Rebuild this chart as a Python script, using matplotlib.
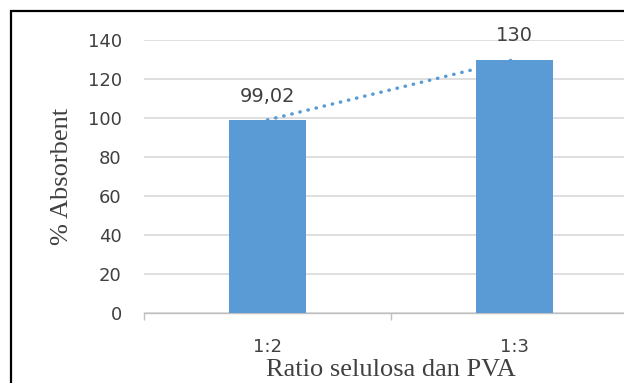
import numpy as np
import matplotlib.pyplot as plt
from matplotlib.patches import Rectangle

categories = ['1:2', '1:3']
values = [99.02, 130]
value_labels = ['99,02', '130']

bar_color = '#5B9BD5'
text_color = '#404040'
sans = ['DejaVu Sans']
serif = ['Liberation Serif', 'DejaVu Serif']

fig = plt.figure(figsize=(6.24, 3.83), dpi=100)
ax = fig.add_axes([144 / 624, 1 - 313 / 383, 494 / 624, 273 / 383])

x = np.arange(len(categories))
ax.bar(x, values, width=0.31, color=bar_color, zorder=3)

# linear trendline
coef = np.polyfit(x, values, 1)
ax.plot(x, np.polyval(coef, x), linestyle=(0, (0.1, 2.3)), dash_capstyle='round',
        color=bar_color, linewidth=2.5, zorder=4)

for xi, v, lab in zip(x, values, value_labels):
    ax.annotate(lab, (xi, v), xytext=(0, 13), textcoords='offset points',
                ha='center', va='baseline', fontsize=14, color=text_color,
                family=sans)

ax.set_xlim(-0.5, 1.5)
ax.set_ylim(0, 140)
ax.set_yticks(np.arange(0, 141, 20))
ax.set_xticks(x)
ax.set_xticklabels(categories)
ax.set_xticks([-0.5, 0.5, 1.5], minor=True)
ax.tick_params(axis='x', which='major', length=0, pad=18, labelsize=13, labelcolor=text_color)
ax.tick_params(axis='x', which='minor', length=5, color='#BFBFBF', width=1)
ax.tick_params(axis='y', length=0, pad=16, labelsize=13, labelcolor=text_color)
for lab in ax.get_xticklabels() + ax.get_yticklabels():
    lab.set_family(sans)

ax.grid(axis='y', color='#D9D9D9', linewidth=1.2, zorder=0)
for s in ['top', 'right', 'left']:
    ax.spines[s].set_visible(False)
ax.spines['bottom'].set_color('#BFBFBF')
ax.spines['bottom'].set_linewidth(1)

fig.text(62 / 624, 1 - 176 / 383, '% Absorbent', rotation=90, ha='center', va='center',
         family=serif, fontsize=19, color=text_color)
fig.text(391 / 624, 1 - 376 / 383, 'Ratio selulosa dan PVA', ha='center', va='baseline',
         family=serif, fontsize=19, color=text_color)

# outer frame
fig.patches.append(Rectangle((11 / 624, -0.1), 1.2, 1.1 - 11 / 383,
                             transform=fig.transFigure, fill=False,
                             edgecolor='black', linewidth=1.6))

fig.savefig('out.png', dpi=100)
